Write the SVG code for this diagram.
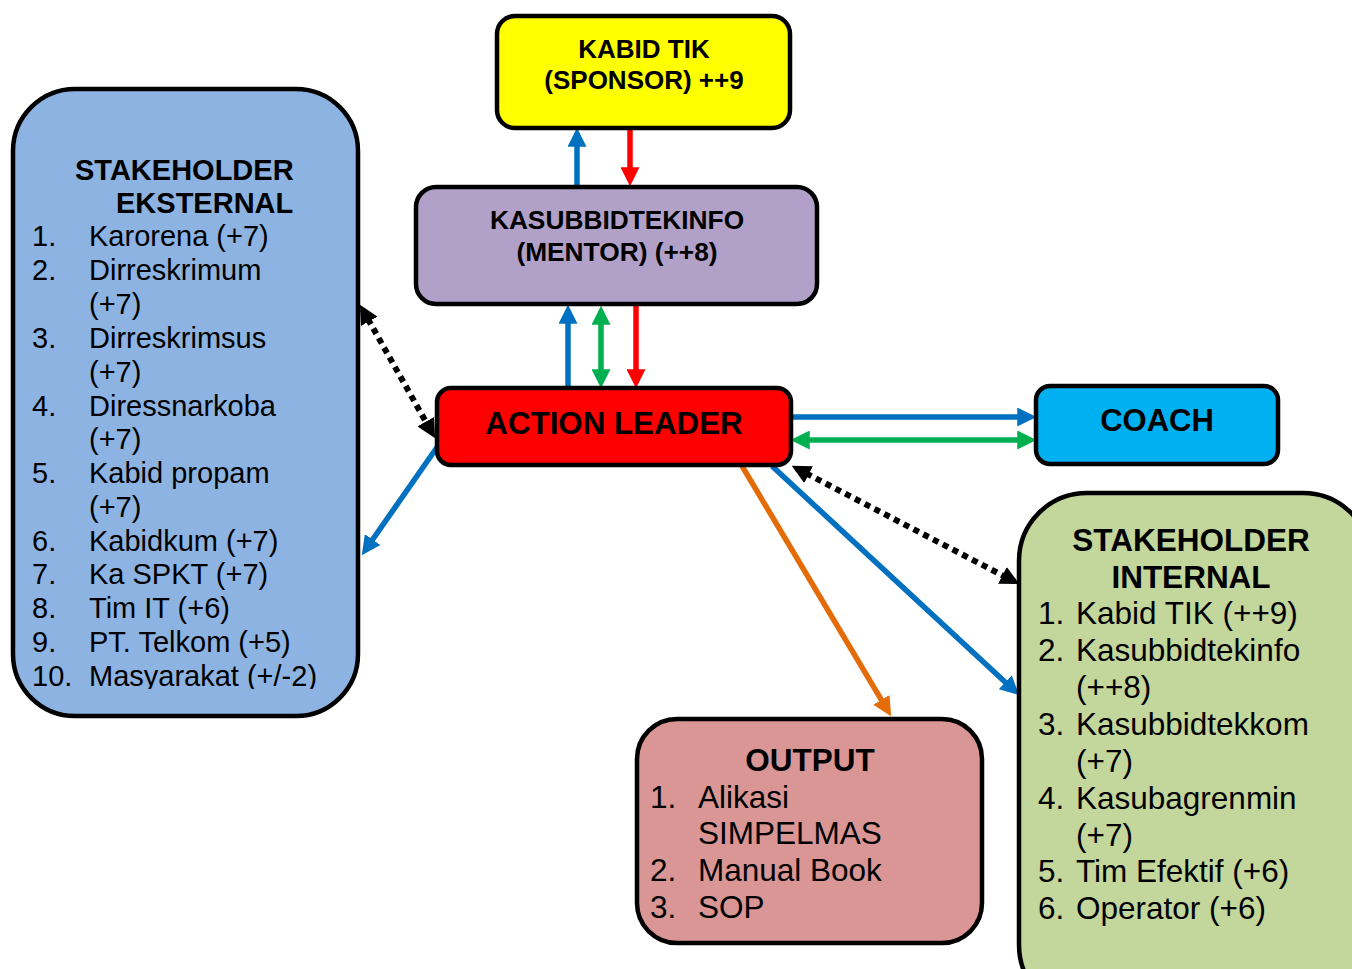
<svg xmlns="http://www.w3.org/2000/svg" width="1352" height="969" viewBox="0 0 1352 969">
<defs>
<style>
.box{stroke:#000;stroke-width:4.5}
.t{font-family:"Liberation Sans",Arial,sans-serif;fill:#000}
.b{font-weight:bold}
.ln{fill:none;stroke-width:5.5}
.dot{fill:none;stroke:#000;stroke-width:6;stroke-dasharray:6 5}
</style>
<marker id="mB" viewBox="0 0 18 18" refX="13" refY="9" markerWidth="19" markerHeight="19" markerUnits="userSpaceOnUse" orient="auto-start-reverse"><path d="M0,0 L18,9 L0,18 z" fill="#0070C0"/></marker>
<marker id="mR" viewBox="0 0 18 18" refX="13" refY="9" markerWidth="19" markerHeight="19" markerUnits="userSpaceOnUse" orient="auto-start-reverse"><path d="M0,0 L18,9 L0,18 z" fill="#FF0000"/></marker>
<marker id="mG" viewBox="0 0 18 18" refX="13" refY="9" markerWidth="19" markerHeight="19" markerUnits="userSpaceOnUse" orient="auto-start-reverse"><path d="M0,0 L18,9 L0,18 z" fill="#00B050"/></marker>
<marker id="mO" viewBox="0 0 18 18" refX="13" refY="9" markerWidth="19" markerHeight="19" markerUnits="userSpaceOnUse" orient="auto-start-reverse"><path d="M0,0 L18,9 L0,18 z" fill="#E36C09"/></marker>
<marker id="mK" viewBox="0 0 18 18" refX="13" refY="9" markerWidth="19" markerHeight="19" markerUnits="userSpaceOnUse" orient="auto-start-reverse"><path d="M0,0 L18,9 L0,18 z" fill="#000"/></marker>
<clipPath id="extClip"><rect x="0" y="0" width="400" height="689"/></clipPath>
</defs>
<rect width="1352" height="969" fill="#fff"/>

<g id="connectors">
<line class="ln" stroke="#0070C0" x1="577" y1="187" x2="577" y2="133" marker-end="url(#mB)"/>
<line class="ln" stroke="#FF0000" x1="630" y1="128" x2="630" y2="181" marker-end="url(#mR)"/>
<line class="ln" stroke="#0070C0" x1="568" y1="388" x2="568" y2="310" marker-end="url(#mB)"/>
<line class="ln" stroke="#00B050" x1="601" y1="311" x2="601" y2="383" marker-start="url(#mG)" marker-end="url(#mG)"/>
<line class="ln" stroke="#FF0000" x1="636" y1="304" x2="636" y2="383" marker-end="url(#mR)"/>
<line class="ln" stroke="#0070C0" x1="791" y1="417" x2="1031" y2="417" marker-end="url(#mB)"/>
<line class="ln" stroke="#00B050" x1="796" y1="440" x2="1031" y2="440" marker-start="url(#mG)" marker-end="url(#mG)"/>
<line class="dot" x1="796.4" y1="468.3" x2="1014.6" y2="581.7" marker-start="url(#mK)" marker-end="url(#mK)"/>
<line class="ln" stroke="#0070C0" x1="772" y1="466" x2="1015.3" y2="691.6" marker-end="url(#mB)"/>
<line class="ln" stroke="#E36C09" x1="742" y1="466" x2="888.4" y2="711.7" marker-end="url(#mO)"/>
<line class="dot" x1="362.5" y1="309.4" x2="432.5" y2="433.6" marker-start="url(#mK)" marker-end="url(#mK)"/>
<line class="ln" stroke="#0070C0" x1="440" y1="443" x2="364.8" y2="550.8" marker-end="url(#mB)"/>
</g>

<g id="kabid">
<rect class="box" x="497" y="16" width="293" height="112" rx="18" fill="#FFFF00"/>
<text class="t b" x="644" y="58" font-size="26" text-anchor="middle">KABID TIK</text>
<text class="t b" x="644" y="89" font-size="26" text-anchor="middle">(SPONSOR) ++9</text>
</g>

<g id="mentor">
<rect class="box" x="416" y="187" width="401" height="117" rx="20" fill="#B1A0C7"/>
<text class="t b" x="617" y="229" font-size="26.3" text-anchor="middle">KASUBBIDTEKINFO</text>
<text class="t b" x="617" y="261" font-size="26.3" text-anchor="middle">(MENTOR) (++8)</text>
</g>

<g id="action-leader">
<rect class="box" x="437" y="388" width="354" height="77" rx="14" fill="#FF0000"/>
<text class="t b" x="614" y="434" font-size="31.3" text-anchor="middle">ACTION LEADER</text>
</g>

<g id="coach">
<rect class="box" x="1036" y="386" width="242" height="78" rx="14" fill="#00B0F0"/>
<text class="t b" x="1157" y="431" font-size="31" text-anchor="middle">COACH</text>
</g>

<g id="stakeholder-eksternal">
<rect class="box" x="13" y="89" width="345" height="627" rx="62" fill="#8DB3E2"/>
<text class="t b" x="75" y="180" font-size="29">STAKEHOLDER</text>
<text class="t b" x="116" y="213" font-size="29">EKSTERNAL</text>
<g class="t" font-size="29" clip-path="url(#extClip)">
<text x="32" y="246">1.</text><text x="89" y="246">Karorena (+7)</text>
<text x="32" y="280">2.</text><text x="89" y="280">Dirreskrimum</text>
<text x="89" y="314">(+7)</text>
<text x="32" y="348">3.</text><text x="89" y="348">Dirreskrimsus</text>
<text x="89" y="382">(+7)</text>
<text x="32" y="416">4.</text><text x="89" y="416">Diressnarkoba</text>
<text x="89" y="449">(+7)</text>
<text x="32" y="483">5.</text><text x="89" y="483">Kabid propam</text>
<text x="89" y="517">(+7)</text>
<text x="32" y="551">6.</text><text x="89" y="551">Kabidkum (+7)</text>
<text x="32" y="584">7.</text><text x="89" y="584">Ka SPKT (+7)</text>
<text x="32" y="618">8.</text><text x="89" y="618">Tim IT (+6)</text>
<text x="32" y="652">9.</text><text x="89" y="652">PT. Telkom (+5)</text>
<text x="32" y="686">10.</text><text x="89" y="686">Masyarakat (+/-2)</text>
</g>
</g>

<g id="stakeholder-internal">
<rect class="box" x="1019" y="493" width="352" height="520" rx="68" fill="#C3D69B"/>
<text class="t b" x="1191" y="551" font-size="31.5" text-anchor="middle">STAKEHOLDER</text>
<text class="t b" x="1191" y="588" font-size="31.5" text-anchor="middle">INTERNAL</text>
<g class="t" font-size="31.5">
<text x="1038" y="624">1.</text><text x="1076" y="624">Kabid TIK (++9)</text>
<text x="1038" y="661">2.</text><text x="1076" y="661">Kasubbidtekinfo</text>
<text x="1076" y="698">(++8)</text>
<text x="1038" y="735">3.</text><text x="1076" y="735">Kasubbidtekkom</text>
<text x="1076" y="772">(+7)</text>
<text x="1038" y="809">4.</text><text x="1076" y="809">Kasubagrenmin</text>
<text x="1076" y="846">(+7)</text>
<text x="1038" y="882">5.</text><text x="1076" y="882">Tim Efektif (+6)</text>
<text x="1038" y="919">6.</text><text x="1076" y="919">Operator (+6)</text>
</g>
</g>

<g id="output">
<rect class="box" x="637" y="719" width="345" height="224" rx="40" fill="#D99694"/>
<text class="t b" x="810" y="771" font-size="31.5" text-anchor="middle">OUTPUT</text>
<g class="t" font-size="31.5">
<text x="650" y="808">1.</text><text x="698" y="808">Alikasi</text>
<text x="698" y="844">SIMPELMAS</text>
<text x="650" y="881">2.</text><text x="698" y="881">Manual Book</text>
<text x="650" y="918">3.</text><text x="698" y="918">SOP</text>
</g>
</g>
</svg>
